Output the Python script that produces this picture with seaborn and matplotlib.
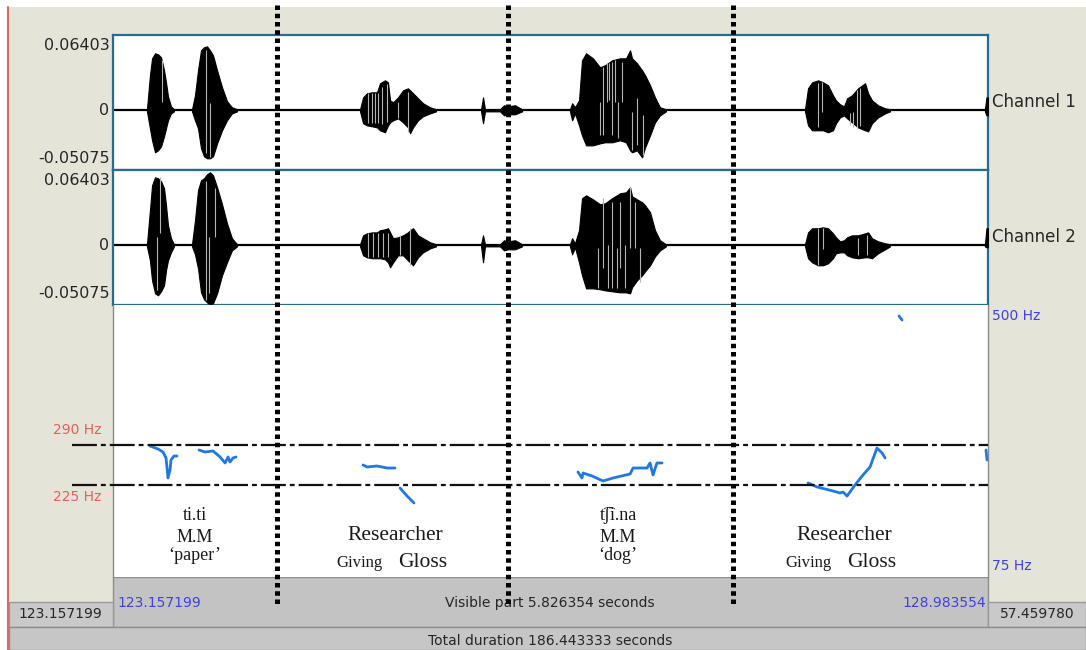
import pandas as pd
import matplotlib
matplotlib.use('Agg')
import matplotlib.pyplot as plt
import matplotlib.transforms as mtransforms
from matplotlib.lines import Line2D
from matplotlib.patches import Rectangle
import seaborn as sns

# 보이는 구간 (Praat 화면)
t_start = 123.157199
t_end = 128.983554
visible = 5.826354
total = 186.443333
after_end = 57.459780
amp_max = 0.06403
amp_min = -0.05075
f_top, f_bottom = 500, 75
band_hi, band_lo = 290, 225
boundaries = [1.092, 2.630, 4.129]

# 파형 포락선 (시간: 구간 시작부터 초, 진폭)
a_t = [0.226, 0.246, 0.260, 0.280, 0.300, 0.320, 0.340, 0.353, 0.366, 0.386, 0.406]
a_up1 = [0.0009, 0.0298, 0.0442, 0.0485, 0.0476, 0.0451, 0.0340, 0.0238, 0.0119, 0.0034, 0.0009]
a_lo1 = [-0.0009, -0.0153, -0.0255, -0.0357, -0.0340, -0.0306, -0.0221, -0.0153, -0.0085, -0.0026, -0.0009]
a_up2 = [0.0009, 0.0298, 0.0510, 0.0578, 0.0570, 0.0544, 0.0485, 0.0340, 0.0170, 0.0060, 0.0009]
a_lo2 = [-0.0009, -0.0128, -0.0298, -0.0408, -0.0425, -0.0391, -0.0340, -0.0213, -0.0128, -0.0060, -0.0009]

b_t = [0.526, 0.546, 0.566, 0.586, 0.606, 0.626, 0.646, 0.666, 0.693, 0.726, 0.759, 0.792, 0.826]
b_up1 = [0.0009, 0.0128, 0.0340, 0.0510, 0.0536, 0.0544, 0.0510, 0.0468, 0.0340, 0.0196, 0.0077, 0.0026, 0.0009]
b_lo1 = [-0.0009, -0.0085, -0.0153, -0.0323, -0.0391, -0.0408, -0.0408, -0.0391, -0.0281, -0.0170, -0.0085, -0.0026, -0.0009]
b_up2 = [0.0009, 0.0213, 0.0468, 0.0553, 0.0570, 0.0604, 0.0621, 0.0595, 0.0493, 0.0349, 0.0187, 0.0060, 0.0009]
b_lo2 = [-0.0009, -0.0077, -0.0196, -0.0400, -0.0459, -0.0485, -0.0502, -0.0493, -0.0408, -0.0255, -0.0145, -0.0043, -0.0009]

c_t = [1.645, 1.665, 1.691, 1.725, 1.758, 1.778, 1.811, 1.831, 1.845, 1.865, 1.898, 1.931, 1.964, 1.978, 1.998, 2.031, 2.064, 2.111, 2.151]
c_up1 = [0.0009, 0.0110, 0.0145, 0.0153, 0.0153, 0.0230, 0.0255, 0.0238, 0.0085, 0.0068, 0.0110, 0.0170, 0.0187, 0.0170, 0.0145, 0.0102, 0.0060, 0.0026, 0.0009]
c_lo1 = [-0.0009, -0.0110, -0.0128, -0.0136, -0.0145, -0.0170, -0.0187, -0.0128, -0.0102, -0.0085, -0.0068, -0.0102, -0.0145, -0.0196, -0.0145, -0.0085, -0.0051, -0.0026, -0.0009]
c_up2 = [0.0009, 0.0085, 0.0102, 0.0110, 0.0110, 0.0128, 0.0136, 0.0145, 0.0110, 0.0060, 0.0068, 0.0085, 0.0110, 0.0128, 0.0145, 0.0085, 0.0060, 0.0026, 0.0009]
c_lo2 = [-0.0009, -0.0085, -0.0102, -0.0110, -0.0110, -0.0110, -0.0119, -0.0145, -0.0187, -0.0145, -0.0085, -0.0085, -0.0128, -0.0145, -0.0170, -0.0102, -0.0060, -0.0026, -0.0009]

s_t = [2.451, 2.464, 2.477, 2.577, 2.604, 2.630, 2.677, 2.724]
s_up1 = [0.0009, 0.0110, 0.0009, 0.0009, 0.0043, 0.0034, 0.0043, 0.0009]
s_lo1 = [-0.0009, -0.0110, -0.0009, -0.0009, -0.0043, -0.0034, -0.0034, -0.0009]
s_up2 = [0.0009, 0.0085, 0.0009, 0.0009, 0.0043, 0.0034, 0.0043, 0.0009]
s_lo2 = [-0.0009, -0.0145, -0.0009, -0.0009, -0.0043, -0.0034, -0.0034, -0.0009]

d_t = [3.043, 3.057, 3.076, 3.103, 3.123, 3.150, 3.196, 3.243, 3.276, 3.323, 3.376, 3.416, 3.443, 3.456, 3.489, 3.523, 3.543, 3.576, 3.609, 3.642, 3.682]
d_up1 = [0.0009, 0.0060, 0.0026, 0.0085, 0.0425, 0.0485, 0.0442, 0.0366, 0.0383, 0.0425, 0.0442, 0.0442, 0.0510, 0.0442, 0.0400, 0.0340, 0.0298, 0.0213, 0.0110, 0.0026, 0.0009]
d_lo1 = [-0.0009, -0.0085, -0.0026, -0.0128, -0.0213, -0.0298, -0.0298, -0.0281, -0.0272, -0.0272, -0.0255, -0.0272, -0.0340, -0.0357, -0.0340, -0.0400, -0.0315, -0.0213, -0.0102, -0.0043, -0.0009]
d_up2 = [0.0009, 0.0060, 0.0017, 0.0128, 0.0400, 0.0425, 0.0391, 0.0349, 0.0357, 0.0400, 0.0442, 0.0451, 0.0493, 0.0417, 0.0391, 0.0366, 0.0340, 0.0281, 0.0128, 0.0043, 0.0009]
d_lo2 = [-0.0009, -0.0077, -0.0017, -0.0145, -0.0255, -0.0366, -0.0366, -0.0374, -0.0383, -0.0391, -0.0400, -0.0400, -0.0408, -0.0357, -0.0298, -0.0255, -0.0221, -0.0170, -0.0094, -0.0043, -0.0009]

e_t = [4.608, 4.628, 4.655, 4.695, 4.728, 4.761, 4.794, 4.814, 4.841, 4.868, 4.888, 4.921, 4.961, 5.008, 5.028, 5.054, 5.094, 5.141, 5.174]
e_up1 = [0.0009, 0.0187, 0.0238, 0.0255, 0.0238, 0.0213, 0.0128, 0.0085, 0.0051, 0.0034, 0.0102, 0.0128, 0.0187, 0.0230, 0.0145, 0.0085, 0.0043, 0.0017, 0.0009]
e_lo1 = [-0.0009, -0.0128, -0.0170, -0.0170, -0.0170, -0.0187, -0.0170, -0.0110, -0.0060, -0.0043, -0.0068, -0.0102, -0.0145, -0.0170, -0.0179, -0.0110, -0.0060, -0.0026, -0.0009]
e_up2 = [0.0009, 0.0110, 0.0145, 0.0145, 0.0153, 0.0145, 0.0102, 0.0068, 0.0034, 0.0043, 0.0068, 0.0085, 0.0085, 0.0102, 0.0110, 0.0060, 0.0034, 0.0017, 0.0009]
e_lo2 = [-0.0009, -0.0110, -0.0145, -0.0170, -0.0170, -0.0153, -0.0110, -0.0068, -0.0060, -0.0060, -0.0085, -0.0102, -0.0110, -0.0102, -0.0102, -0.0110, -0.0068, -0.0034, -0.0009]

r_t = [5.806, 5.816, 5.826]
r_up1 = [0.0009, 0.0110, 0.0110]
r_lo1 = [-0.0009, -0.0043, -0.0043]
r_up2 = [0.0009, 0.0145, 0.0145]
r_lo2 = [-0.0009, -0.0017, -0.0017]

# 파형 안의 밝은 세로 줄 (시간, 위, 아래)
st1_t = [0.328, 0.619, 0.646, 1.698, 1.725, 1.745, 1.765, 1.791, 1.825, 1.898, 1.964,
         3.243, 3.263, 3.290, 3.303, 3.323, 3.343, 3.363, 3.390, 3.456, 3.489, 3.529,
         4.695, 4.719, 4.908, 4.928, 4.954, 4.974]
st1_hi = [0.0425, 0.0510, 0.0060, 0.0145, 0.0145, 0.0145, 0.0145, 0.0200, 0.0220, 0.0068, 0.0156,
          0.0068, 0.0366, 0.0400, 0.0400, 0.0410, 0.0425, 0.0068, 0.0410, -0.0017, 0.0102, -0.0043,
          0.0230, 0.0238, -0.0026, -0.0014, 0.0170, 0.0187]
st1_lo = [0.0068, -0.0366, -0.0400, -0.0110, -0.0110, -0.0110, -0.0110, -0.0120, -0.0100, -0.0068, -0.0184,
          -0.0213, -0.0213, 0.0068, 0.0085, -0.0213, 0.0068, -0.0238, 0.0068, -0.0340, -0.0298, -0.0380,
          -0.0145, -0.0017, -0.0128, -0.0142, -0.0150, -0.0136]
st2_t = [0.291, 0.313, 0.619, 0.639, 0.679, 1.700, 1.733, 1.767, 1.800, 1.833, 1.911, 1.978,
         3.230, 3.263, 3.296, 3.323, 3.356, 3.376, 3.409, 3.443, 3.476, 3.509,
         4.695, 4.728, 4.961, 5.021]
st2_hi = [0.0068, 0.0578, 0.0550, 0.0068, 0.0490, 0.0102, 0.0102, 0.0102, 0.0102, 0.0102, 0.0085, 0.0145,
          -0.0026, 0.0400, 0.0000, 0.0366, -0.0026, 0.0366, 0.0000, 0.0493, 0.0366, -0.0026,
          0.0145, 0.0145, 0.0060, 0.0085]
st2_lo = [-0.0380, 0.0102, -0.0468, -0.0408, 0.0068, -0.0102, -0.0102, -0.0102, -0.0102, -0.0102, -0.0085, -0.0170,
          -0.0366, -0.0196, -0.0366, -0.0366, -0.0366, -0.0196, -0.0366, -0.0026, -0.0026, -0.0312,
          -0.0170, -0.0034, -0.0085, -0.0085]

# 피치 곡선 (Hz)
p1_t = [0.246, 0.300, 0.333, 0.353, 0.360, 0.366, 0.380, 0.386, 0.406, 0.426]
p1_hz = [288.4, 283.5, 278.6, 268.9, 252.6, 236.4, 249.4, 265.6, 272.1, 272.1]
p2_t = [0.573, 0.613, 0.666, 0.713, 0.746, 0.766, 0.779, 0.799, 0.819]
p2_hz = [281.9, 278.6, 280.3, 270.5, 260.8, 270.5, 262.4, 268.9, 270.5]
p3_t = [1.665, 1.691, 1.758, 1.825, 1.878]
p3_hz = [257.5, 254.3, 255.9, 252.6, 252.6]
p4_t = [1.911, 1.958, 2.004]
p4_hz = [220.1, 207.1, 195.8]
p5_t = [3.096, 3.123, 3.130, 3.190, 3.263, 3.330, 3.443, 3.463, 3.556, 3.576, 3.596, 3.622, 3.656]
p5_hz = [246.1, 236.4, 244.5, 239.6, 231.5, 236.4, 242.9, 252.6, 252.6, 260.8, 241.3, 260.8, 260.8]
p6_t = [4.628, 4.688, 4.794, 4.841, 4.861, 4.888, 4.941, 4.994, 5.041, 5.087, 5.121, 5.141]
p6_hz = [228.3, 221.8, 215.3, 212.0, 213.6, 207.1, 225.0, 241.3, 254.3, 285.1, 277.0, 268.9]
p7_t = [5.234, 5.254]
p7_hz = [499.6, 493.1]
p8_t = [5.813, 5.820]
p8_hz = [281.9, 265.6]

# 단어 주석
word_t = [0.546, 1.878, 3.363, 4.868]
word_lines = [["ti.ti", "M.M", "\u2018paper\u2019"],
              ["Researcher"],
              ["t\u0361\u0283i.na", "M.M", "\u2018dog\u2019"],
              ["Researcher"]]
gloss_t = [1.878, 4.868]

sns.set_theme(style='white')
plt.rcParams['font.family'] = ['DejaVu Sans']
serif = ['Liberation Serif', 'DejaVu Serif']

W, H = 1086, 650
def box(x0, y0, x1, y1):
    return [x0 / W, 1 - y1 / H, (x1 - x0) / W, (y1 - y0) / H]

fig = plt.figure(figsize=(W / 100, H / 100), dpi=100)

# 창 배경
bg = fig.add_axes([0, 0, 1, 1])
bg.set_xlim(0, W)
bg.set_ylim(H, 0)
bg.axis('off')
bg.add_patch(Rectangle((0, 0), W, H, fc='white', ec='none'))
bg.add_patch(Rectangle((9, 7), W - 9, 620, fc='#E4E4D9', ec='none'))
bg.add_patch(Rectangle((113, 577), 875, 50, fc='#C3C3C3', ec='#8E8E8E', lw=1))
bg.add_patch(Rectangle((9, 602), 104, 25, fc='#C9C9C9', ec='#9A9A9A', lw=1))
bg.add_patch(Rectangle((988, 602), 98, 25, fc='#C9C9C9', ec='#9A9A9A', lw=1))
bg.add_patch(Rectangle((9, 627), W - 9, 23, fc='#C6C6C6', ec='#8E8E8E', lw=1))
bg.plot([7.5, 7.5], [7, H], color='#D96A6A', lw=1.5)

txt = '#262626'
blue = '#4040E0'
bg.text(117, 603, f"{t_start:.6f}", color=blue, fontsize=10, ha='left', va='center')
bg.text(550, 603, f"Visible part {visible:.6f} seconds", color=txt, fontsize=10, ha='center', va='center')
bg.text(986, 603, f"{t_end:.6f}", color=blue, fontsize=10, ha='right', va='center')
bg.text(60, 614, f"{t_start:.6f}", color=txt, fontsize=10, ha='center', va='center')
bg.text(1037, 614, f"{after_end:.6f}", color=txt, fontsize=10, ha='center', va='center')
bg.text(550, 641, f"Total duration {total:.6f} seconds", color=txt, fontsize=10, ha='center', va='center')

# 두 채널 파형
bursts = [(a_t, a_up1, a_lo1, a_up2, a_lo2),
          (b_t, b_up1, b_lo1, b_up2, b_lo2),
          (c_t, c_up1, c_lo1, c_up2, c_lo2),
          (s_t, s_up1, s_lo1, s_up2, s_lo2),
          (d_t, d_up1, d_lo1, d_up2, d_lo2),
          (e_t, e_up1, e_lo1, e_up2, e_lo2),
          (r_t, r_up1, r_lo1, r_up2, r_lo2)]
streaks = [(st1_t, st1_hi, st1_lo), (st2_t, st2_hi, st2_lo)]

ax1 = fig.add_axes(box(113, 35, 988, 170))
ax2 = fig.add_axes(box(113, 170, 988, 305))
for ch, ax in enumerate([ax1, ax2]):
    ax.set_facecolor('white')
    ax.axhline(0, color='black', lw=1.6, zorder=2)
    for bt, u1, l1, u2, l2 in bursts:
        up, lo = (u1, l1) if ch == 0 else (u2, l2)
        ax.fill_between(bt, lo, up, color='black', lw=0.8, zorder=3)
    sk_t, sk_hi, sk_lo = streaks[ch]
    ax.vlines(sk_t, sk_lo, sk_hi, color='#B4B4B4', lw=0.8, zorder=4)
    ax.set_xlim(0, visible)
    ax.set_ylim(amp_min, amp_max)
    ax.set_xticks([])
    ax.set_yticks([])
    for sp in ax.spines.values():
        sp.set_visible(True)
        sp.set_color('#256C8E')
        sp.set_linewidth(1.6)
    ax.text(-0.004, 0.92, f"{amp_max:.5f}", transform=ax.transAxes, ha='right', va='center', fontsize=11.5, color=txt)
    ax.text(-0.004, 0.0, "0", transform=ax.get_yaxis_transform(), ha='right', va='center', fontsize=11.5, color=txt)
    ax.text(-0.004, 0.085, f"{amp_min:.5f}", transform=ax.transAxes, ha='right', va='center', fontsize=11.5, color=txt)
    ax.text(1.004, 0.505, f"Channel {ch + 1}", transform=ax.transAxes, ha='left', va='center', fontsize=12, color=txt)

# 피치 영역
axp = fig.add_axes(box(113, 305, 988, 577))
axp.set_facecolor('white')
segs = [(p1_t, p1_hz), (p2_t, p2_hz), (p3_t, p3_hz), (p4_t, p4_hz),
        (p5_t, p5_hz), (p6_t, p6_hz), (p7_t, p7_hz), (p8_t, p8_hz)]
pitch = pd.concat([pd.DataFrame({'t': st, 'hz': sh, 'seg': i}) for i, (st, sh) in enumerate(segs)])
sns.lineplot(data=pitch, x='t', y='hz', units='seg', estimator=None, sort=False,
             color='#1F78E4', lw=2.0, ax=axp, legend=False)
axp.set_xlim(0, visible)
axp.set_ylim(75.5, 517.5)
axp.set_xlabel('')
axp.set_ylabel('')
axp.set_xticks([])
axp.set_yticks([])
for k, sp in axp.spines.items():
    sp.set_visible(k in ('left', 'right'))
    sp.set_color('#8A8A8A')
    sp.set_linewidth(1)

axp.text(1.004, f_top, f"{f_top} Hz", transform=axp.get_yaxis_transform(), ha='left', va='center', fontsize=10, color=blue)
axp.text(1.004, 0.04, f"{f_bottom} Hz", transform=axp.transAxes, ha='left', va='center', fontsize=10, color=blue)
red = '#E0625C'
axp.text(-0.013, 314, f"{band_hi} Hz", transform=axp.get_yaxis_transform(), ha='right', va='center', fontsize=10, color=red)
axp.text(-0.013, 205.5, f"{band_lo} Hz", transform=axp.get_yaxis_transform(), ha='right', va='center', fontsize=10, color=red)

# 단어 주석
for wt, lines in zip(word_t, word_lines):
    if len(lines) == 3:
        for line, yb in zip(lines, [168.1, 132.4, 103.1]):
            axp.text(wt, yb, line, ha='center', va='baseline', fontsize=13, family=serif, color='#1A1A1A')
    else:
        axp.text(wt, 135.6, lines[0], ha='center', va='baseline', fontsize=15.5, family=serif, color='#1A1A1A')
for gt in gloss_t:
    axp.annotate("Giving", (gt, 91.75), xytext=(-9, 0), textcoords='offset points',
                 ha='right', va='baseline', fontsize=12, family=serif, color='#1A1A1A')
    axp.annotate("Gloss", (gt, 91.75), xytext=(2, 0), textcoords='offset points',
                 ha='left', va='baseline', fontsize=15.5, family=serif, color='#1A1A1A')

# 경계 점선 (창 전체 세로)
vtrans = mtransforms.blended_transform_factory(axp.transData, fig.transFigure)
for b in boundaries:
    ln = Line2D([b, b], [1 - 5 / H, 1 - 607 / H], transform=vtrans, color='black',
                lw=3.6, ls=(0, (0.9, 0.75)), dash_capstyle='butt', zorder=10)
    fig.add_artist(ln)

# 290 Hz / 225 Hz 기준선
htrans = mtransforms.blended_transform_factory(fig.transFigure, axp.transData)
for f in [band_hi, band_lo]:
    ln = Line2D([72 / W, 988 / W], [f, f], transform=htrans, color='#111111',
                lw=1.6, ls=(0, (11.2, 1.8, 2.2, 1.8)), zorder=9)
    fig.add_artist(ln)

fig.savefig('out.png', dpi=100)
